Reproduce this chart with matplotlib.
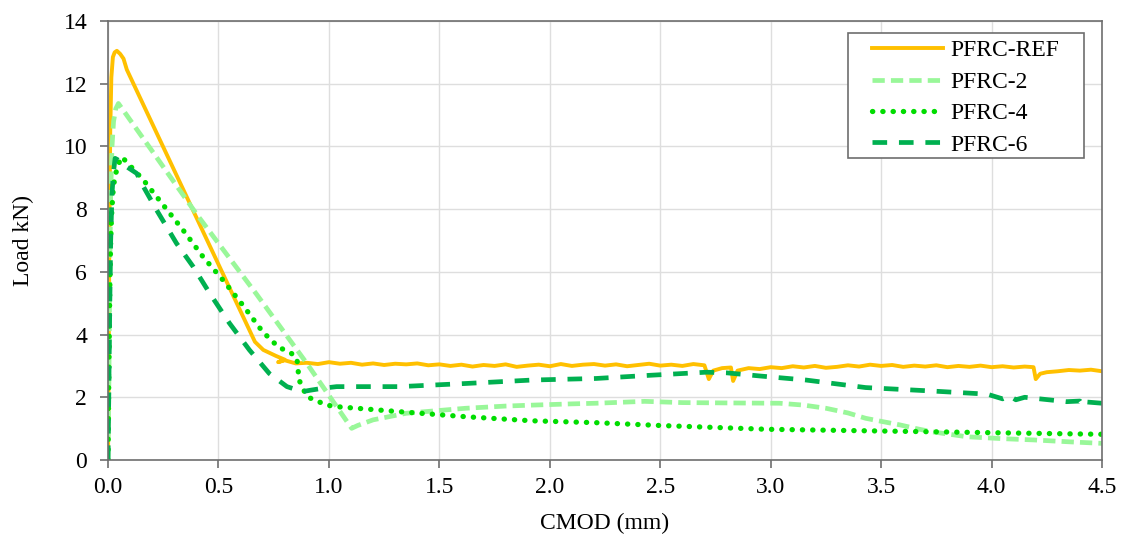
#!/usr/bin/env python3
"""Load vs CMOD curves for the PFRC mixes."""

import matplotlib
matplotlib.use("Agg")
import matplotlib.pyplot as plt
from matplotlib.patches import Rectangle

plt.rcParams.update({
    "font.family": "serif",
    "font.serif": ["Liberation Serif", "DejaVu Serif"],
    "font.size": 17,
})

# PFRC-REF
ref_x = [0, 0.003, 0.006, 0.010, 0.015, 0.022, 0.030, 0.040, 0.055, 0.070, 0.085,
         0.665, 0.703, 0.760, 0.800, 0.770, 0.800, 0.850,
         0.90, 0.95, 1.00, 1.05, 1.10, 1.15, 1.20, 1.25, 1.30, 1.35, 1.40, 1.45,
         1.50, 1.55, 1.60, 1.65, 1.70, 1.75, 1.80, 1.85, 1.90, 1.95, 2.00, 2.05,
         2.10, 2.15, 2.20, 2.25, 2.30, 2.35, 2.40, 2.45, 2.50, 2.55, 2.60, 2.65,
         2.70, 2.72, 2.74, 2.78, 2.82, 2.83, 2.85, 2.90, 2.95, 3.00, 3.05, 3.10,
         3.15, 3.20, 3.25, 3.30, 3.35, 3.40, 3.45, 3.50, 3.55, 3.60, 3.65, 3.70,
         3.75, 3.80, 3.85, 3.90, 3.95, 4.00, 4.05, 4.10, 4.15, 4.19, 4.20, 4.22,
         4.25, 4.30, 4.35, 4.40, 4.45, 4.50]
ref_y = [0, 3.0, 7.0, 10.5, 12.2, 12.85, 13.0, 13.05, 12.95, 12.8, 12.45,
         3.77, 3.51, 3.32, 3.20, 3.12, 3.18, 3.08,
         3.10, 3.06, 3.12, 3.07, 3.10, 3.04, 3.08, 3.03, 3.07, 3.05, 3.08, 3.02,
         3.05, 3.00, 3.04, 2.98, 3.03, 3.00, 3.05, 2.97, 3.01, 3.04, 2.99, 3.06,
         3.00, 3.04, 3.06, 3.01, 3.05, 2.99, 3.03, 3.07, 3.01, 3.04, 3.00, 3.06,
         3.02, 2.58, 2.85, 2.93, 2.95, 2.52, 2.85, 2.93, 2.90, 2.96, 2.93, 2.99,
         2.95, 3.00, 2.94, 2.97, 3.02, 2.98, 3.04, 3.00, 3.03, 2.97, 3.01, 2.98,
         3.02, 2.96, 3.00, 2.97, 3.01, 2.96, 2.99, 2.95, 2.98, 2.96, 2.58, 2.75,
         2.80, 2.83, 2.87, 2.85, 2.88, 2.83]

# PFRC-2
p2_x = [0, 0.004, 0.008, 0.012, 0.018, 0.025, 0.035, 0.047, 0.20, 0.40, 0.673,
        0.90, 1.103, 1.13, 1.20, 1.35, 1.50, 1.62, 1.80, 1.92, 2.10, 2.21, 2.43,
        2.60, 2.80, 3.04, 3.15, 3.25, 3.35, 3.43, 3.51, 3.585, 3.66, 3.73, 3.89,
        4.05, 4.19, 4.35, 4.50]
p2_y = [0, 2.5, 6.0, 8.5, 10.0, 10.8, 11.2, 11.37, 9.85, 7.85, 5.28,
        3.08, 1.01, 1.10, 1.28, 1.49, 1.58, 1.65, 1.72, 1.75, 1.79, 1.81, 1.87,
        1.83, 1.82, 1.81, 1.75, 1.65, 1.50, 1.33, 1.22, 1.12, 1.00, 0.90, 0.74,
        0.68, 0.64, 0.58, 0.53]

# PFRC-4
p4_x = [0, 0.004, 0.008, 0.012, 0.016, 0.022, 0.030, 0.045, 0.062, 0.16, 0.25,
        0.34, 0.43, 0.52, 0.61, 0.70, 0.77, 0.83, 0.855, 0.865, 0.90, 0.99,
        1.035, 1.126, 1.32, 1.62, 1.92, 2.21, 2.50, 2.98, 3.35, 3.73, 4.10, 4.50]
p4_y = [0, 3.0, 5.5, 7.0, 7.8, 8.5, 9.0, 9.4, 9.67, 8.93, 8.13,
        7.33, 6.48, 5.74, 4.94, 4.09, 3.61, 3.40, 3.25, 2.55, 2.02, 1.75,
        1.70, 1.65, 1.54, 1.38, 1.25, 1.19, 1.10, 0.98, 0.94, 0.90, 0.86, 0.82]

# PFRC-6
p6_x = [0, 0.004, 0.008, 0.012, 0.018, 0.025, 0.032, 0.05, 0.085, 0.13, 0.16,
        0.22, 0.31, 0.386, 0.46, 0.55, 0.64, 0.73, 0.81, 0.88, 0.92, 0.975,
        1.035, 1.10, 1.32, 1.62, 1.92, 2.21, 2.45, 2.71, 2.80, 2.95, 3.16, 3.43,
        3.73, 3.98, 4.05, 4.08, 4.11, 4.15, 4.34, 4.40, 4.415, 4.43, 4.50]
p6_y = [0, 2.5, 5.0, 7.0, 8.5, 9.2, 9.62, 9.55, 9.35, 9.14, 8.72,
        7.97, 6.91, 6.16, 5.32, 4.36, 3.51, 2.76, 2.34, 2.18, 2.23, 2.29,
        2.34, 2.34, 2.34, 2.44, 2.55, 2.60, 2.70, 2.80, 2.78, 2.68, 2.55, 2.31,
        2.20, 2.10, 1.95, 2.05, 1.92, 2.00, 1.86, 1.88, 1.72, 1.85, 1.81]

fig = plt.figure(figsize=(11.23, 5.36), dpi=100)
ax = fig.add_axes([0.0962, 0.1418, 0.8851, 0.819])

ax.plot(ref_x, ref_y, color="#FFC000", lw=2.8, label="PFRC-REF",
        solid_joinstyle="round")
ax.plot(p2_x, p2_y, color="#99F799", lw=3.4, dashes=(2.6, 1.3), label="PFRC-2")
ax.plot(p4_x, p4_y, color="#00DD00", lw=3.8, dashes=(0.05, 1.9),
        dash_capstyle="round", label="PFRC-4")
ax.plot(p6_x, p6_y, color="#00B050", lw=3.4, dashes=(3.1, 2.5), label="PFRC-6")

ax.set_xlim(0, 4.5)
ax.set_ylim(0, 14)
ax.set_xticks([0, 0.5, 1.0, 1.5, 2.0, 2.5, 3.0, 3.5, 4.0, 4.5])
ax.set_xticklabels(["0.0", "0.5", "1.0", "1.5", "2.0", "2.5", "3.0", "3.5",
                    "4.0", "4.5"])
ax.set_yticks(range(0, 15, 2))
ax.grid(True, color="#DEDEDE", lw=1.0)
ax.set_axisbelow(True)
for sp in ax.spines.values():
    sp.set_color("#6E6E6E")
    sp.set_linewidth(1.2)
ax.tick_params(direction="out", length=6, width=1.2, color="#6E6E6E",
               labelsize=17)
ax.tick_params(axis="x", pad=6)
ax.tick_params(axis="y", pad=9)

ax.set_xlabel("CMOD (mm)", fontsize=17, labelpad=11)
ax.set_ylabel("Load kN)", fontsize=17, labelpad=21)

# legend box drawn by hand (wider side padding than matplotlib allows)
ax.add_patch(Rectangle((0.744, 0.688), 0.238, 0.285, transform=ax.transAxes,
                       facecolor="white", edgecolor="#6E6E6E", lw=1.2,
                       zorder=4))
leg = ax.legend(loc="upper left", bbox_to_anchor=(0.7686, 0.957),
                borderaxespad=0, borderpad=0, frameon=False,
                handlelength=3.0, handletextpad=0.3, labelspacing=0.42,
                fontsize=17)
leg.set_zorder(5)

fig.savefig("out.png", dpi=100)
